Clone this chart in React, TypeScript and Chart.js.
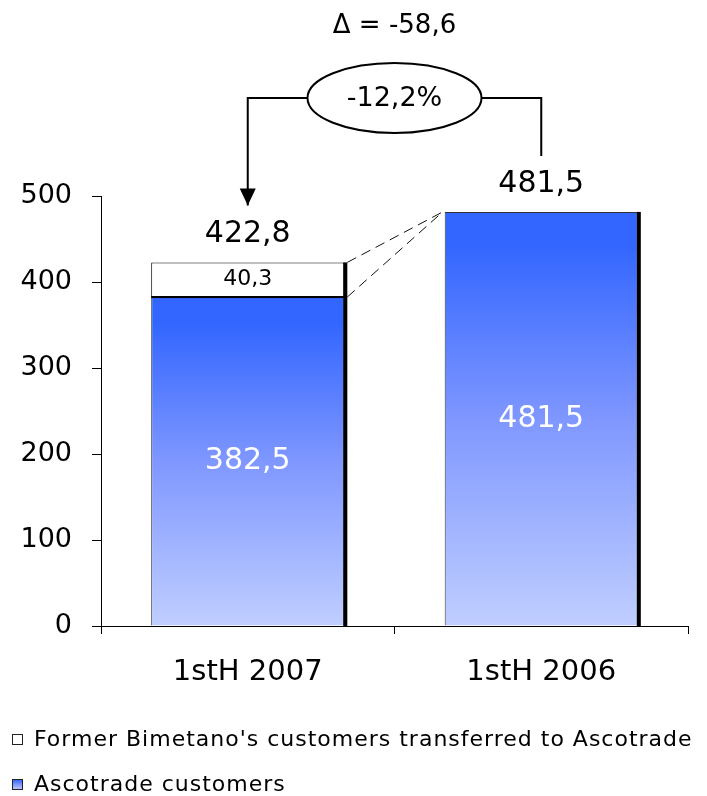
import React, { useEffect, useRef } from "react";
import { Chart, registerables } from "chart.js";

Chart.register(...registerables);

const categories = ["1stH 2007", "1stH 2006"];
const ascotradeCustomers = [382.5, 481.5];
const formerBimetano: (number | null)[] = [40.3, null];
const yTicks = [0, 100, 200, 300, 400, 500];
const seriesNames = [
  "Former Bimetano's customers transferred to Ascotrade",
  "Ascotrade customers",
];
const deltaLabel = "\u0394 = -58,6";
const changeLabel = "-12,2%";

const FONT = '"DejaVu Sans", Verdana, sans-serif';
const fmt = (v: number) => v.toFixed(1).replace(".", ",");

const GRAD_TOP = "#3366ff";
const GRAD_MID = "#7f97ff";
const GRAD_BOT = "#c0ceff";

function blueGradient(ctx: CanvasRenderingContext2D, y0: number, y1: number) {
  const g = ctx.createLinearGradient(0, y0, 0, y1);
  g.addColorStop(0, GRAD_TOP);
  g.addColorStop(0.08, GRAD_TOP);
  g.addColorStop(0.5, GRAD_MID);
  g.addColorStop(1, GRAD_BOT);
  return g;
}

const annotatePlugin = {
  id: "annotate",
  afterDatasetsDraw(chart: any) {
    const ctx: CanvasRenderingContext2D = chart.ctx;
    const m0 = chart.getDatasetMeta(0).data;
    const m1 = chart.getDatasetMeta(1).data;
    const ys = chart.scales.y;
    const base = ys.getPixelForValue(0);
    const area = chart.chartArea;
    ctx.save();
    const tops: number[] = [];
    const labelBase: number[] = [];
    categories.forEach((_, i) => {
      const b = m0[i];
      const half = b.width / 2;
      const total = ascotradeCustomers[i] + (formerBimetano[i] ?? 0);
      const topPx = ys.getPixelForValue(total);
      tops.push(topPx);
      if (formerBimetano[i]) {
        ctx.fillStyle = "#000";
        ctx.fillRect(b.x - half, b.y - 1, b.width, 2);
      }
      ctx.fillStyle = "#000";
      ctx.fillRect(b.x + half - 1, topPx, 4, base - topPx);
      ctx.textAlign = "center";
      ctx.textBaseline = "middle";
      ctx.fillStyle = "#fff";
      ctx.font = `30px ${FONT}`;
      ctx.fillText(fmt(ascotradeCustomers[i]), b.x, (b.y + base) / 2);
      const fv = formerBimetano[i];
      if (fv) {
        const f = m1[i];
        ctx.fillStyle = "#000";
        ctx.font = `22px ${FONT}`;
        ctx.fillText(fmt(fv), f.x, (f.y + f.base) / 2);
      }
      ctx.fillStyle = "#000";
      ctx.font = `30px ${FONT}`;
      ctx.textBaseline = "alphabetic";
      const lb = topPx - 20;
      labelBase.push(lb);
      ctx.fillText(fmt(total), b.x, lb);
    });

    const b1 = m0[0];
    const b2 = m0[1];
    const r1 = b1.x + b1.width / 2 + 3;
    const l2 = b2.x - b2.width / 2 - 2;
    ctx.strokeStyle = "#111";
    ctx.lineWidth = 1;
    ctx.setLineDash([10, 6]);
    ctx.beginPath();
    ctx.moveTo(r1, tops[0]);
    ctx.lineTo(l2, tops[1]);
    ctx.moveTo(r1, b1.y);
    ctx.lineTo(l2, tops[1]);
    ctx.stroke();
    ctx.setLineDash([]);

    const lineY = area.top - 98;
    const cx = (b1.x + b2.x) / 2;
    const rx = 87;
    const ry = 35;
    ctx.strokeStyle = "#000";
    ctx.lineWidth = 2;
    ctx.beginPath();
    ctx.moveTo(b1.x, labelBase[0] - 37);
    ctx.lineTo(b1.x, lineY);
    ctx.lineTo(cx - rx, lineY);
    ctx.moveTo(cx + rx, lineY);
    ctx.lineTo(b2.x, lineY);
    ctx.lineTo(b2.x, labelBase[1] - 36);
    ctx.stroke();
    const tip = labelBase[0] - 37;
    ctx.fillStyle = "#000";
    ctx.beginPath();
    ctx.moveTo(b1.x, tip);
    ctx.lineTo(b1.x - 8, tip - 17);
    ctx.lineTo(b1.x + 8, tip - 17);
    ctx.closePath();
    ctx.fill();
    ctx.fillStyle = "#fff";
    ctx.beginPath();
    ctx.ellipse(cx, lineY, rx, ry, 0, 0, Math.PI * 2);
    ctx.fill();
    ctx.stroke();
    ctx.fillStyle = "#000";
    ctx.textAlign = "center";
    ctx.textBaseline = "middle";
    ctx.font = `27px ${FONT}`;
    ctx.fillText(changeLabel, cx, lineY + 1);
    ctx.font = `26px ${FONT}`;
    ctx.fillText(deltaLabel, cx, lineY - 72);
    ctx.restore();
  },
  afterDraw(chart: any) {
    const ctx: any = chart.ctx;
    ctx.save();
    ctx.font = `22px ${FONT}`;
    ctx.letterSpacing = "1px";
    ctx.textAlign = "left";
    ctx.textBaseline = "middle";
    const rows = [740, 785];
    seriesNames.forEach((name, i) => {
      const cy = rows[i];
      const bx = 12;
      const by = cy - 6;
      ctx.fillStyle = i === 0 ? "#fff" : blueGradient(ctx, by, by + 11);
      ctx.fillRect(bx, by, 11, 11);
      ctx.strokeStyle = "#222";
      ctx.lineWidth = 1;
      ctx.strokeRect(bx + 0.5, by + 0.5, 10, 10);
      ctx.fillStyle = "#000";
      ctx.fillText(name, 34, cy);
    });
    ctx.restore();
  },
};

export default function App() {
  const ref = useRef<HTMLCanvasElement>(null);
  useEffect(() => {
    if (!ref.current) return;
    const chart = new Chart(ref.current, {
      type: "bar",
      data: {
        labels: categories,
        datasets: [
          {
            label: seriesNames[1],
            data: ascotradeCustomers,
            backgroundColor: (c: any) => {
              const ch = c.chart;
              const ys = ch.scales?.y;
              if (!ys || c.dataIndex === undefined) return GRAD_MID;
              const v = ascotradeCustomers[c.dataIndex];
              const y0 = ys.getPixelForValue(v);
              const y1 = ys.getPixelForValue(0);
              if (!isFinite(y0) || !isFinite(y1) || y0 === y1) return GRAD_MID;
              return blueGradient(ch.ctx, y0, y1);
            },
            borderColor: "#333",
            borderWidth: 1,
            borderSkipped: "bottom",
            barPercentage: 0.658,
            categoryPercentage: 1,
          },
          {
            label: seriesNames[0],
            data: formerBimetano,
            backgroundColor: "#fff",
            borderColor: "#000",
            borderWidth: 1,
            borderSkipped: false,
            barPercentage: 0.658,
            categoryPercentage: 1,
          },
        ],
      },
      options: {
        responsive: false,
        animation: false,
        layout: { padding: { top: 196, left: 0, right: 19, bottom: 0 } },
        plugins: {
          legend: { display: false },
          tooltip: { enabled: false },
        },
        scales: {
          x: {
            stacked: true,
            afterFit: (s: any) => {
              s.height = 170;
            },
            grid: {
              drawOnChartArea: false,
              offset: true,
              tickLength: 8,
              color: "#000",
            },
            border: { display: true, color: "#000", width: 1 },
            ticks: {
              color: "#000",
              font: { family: FONT, size: 29 },
              padding: 21,
            },
          },
          y: {
            stacked: true,
            min: 0,
            max: 500,
            afterFit: (s: any) => {
              s.width = 101;
            },
            afterBuildTicks: (s: any) => {
              s.ticks = yTicks.map((v) => ({ value: v }));
            },
            grid: {
              drawOnChartArea: false,
              tickLength: 9,
              color: "#000",
            },
            border: { display: true, color: "#000", width: 1 },
            ticks: {
              color: "#000",
              font: { family: FONT, size: 27 },
              padding: 20,
            },
          },
        },
      },
      plugins: [annotatePlugin],
    });
    return () => chart.destroy();
  }, []);
  return (
    <div style={{ position: "absolute", left: 0, top: 0, width: 707, height: 796, background: "#fff" }}>
      <canvas ref={ref} width={707} height={796} />
    </div>
  );
}
